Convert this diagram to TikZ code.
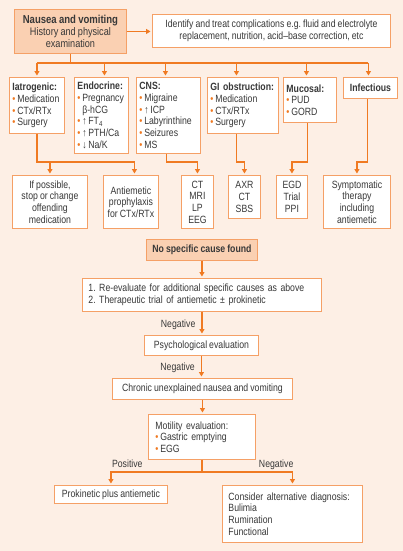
\documentclass[tikz,border=0pt]{standalone}
\usepackage{fontspec}
\setmainfont{Liberation Sans}[FakeStretch=0.83, WordSpace=0.85]
\usetikzlibrary{arrows.meta, positioning, calc}
\definecolor{bgc}{HTML}{FDEFE5}
\definecolor{lineor}{HTML}{F07A22}
\definecolor{boxor}{HTML}{F5A066}
\definecolor{headfill}{HTML}{FAD0B2}
\definecolor{txt}{HTML}{383838}
\newcommand{\bul}{{\color{lineor}\textbullet}\,}
\frenchspacing

\begin{document}
\begin{tikzpicture}[x=1pt, y=-1pt,
  box/.style={rectangle, draw=boxor, line width=0.9pt, fill=white, align=center, inner xsep=3pt, inner ysep=2pt, text=txt, font=\fontsize{10.5}{11.7}\selectfont},
  lbox/.style={box, anchor=north west, align=left},
  hd/.style={box, fill=headfill},
  lb/.style={font=\fontsize{10.5}{11}\selectfont, text=txt, inner sep=1pt, text depth=0pt},
  >={Triangle[length=4.5pt, width=5pt]},
  arr/.style={->, draw=lineor, line width=1.2pt, shorten >=1.5pt},
  ln/.style={draw=lineor, line width=1.2pt}]
\useasboundingbox[fill=bgc] (0,0) rectangle (403,551);

% start and side box
\node[hd, anchor=north west, minimum width=112, minimum height=44, font=\fontsize{11}{12.2}\selectfont] (nv) at (14,9) {{\fontsize{11.5}{12}\selectfont\textbf{Nausea and vomiting}}\\History and physical\\examination};
\node[box, anchor=north west, minimum width=238, minimum height=33] (idt) at (152,14) {Identify and treat complications e.g. fluid and electrolyte\\replacement, nutrition, acid--base correction, etc};
\draw[arr] (nv.east) -- (nv.east -| idt.west);

% causes
\node[lbox, text width=49, minimum height=56] (iat) at (9,77) {\textbf{Iatrogenic:}\\\bul Medication\\\bul CTx/RTx\\\bul Surgery};
\node[lbox, text width=48, minimum height=76] (endo) at (74,77) {\textbf{Endocrine:}\\\bul Pregnancy\\\hphantom{\bul}β-hCG\\\bul ↑\,FT\textsubscript{4}\\\bul ↑\,PTH/Ca\\\bul ↓\,Na/K};
\node[lbox, text width=58, minimum height=76] (cns) at (136,77) {\textbf{CNS:}\\\bul Migraine\\\bul ↑\,ICP\\\bul Labyrinthine\\\bul Seizures\\\bul MS};
\node[lbox, text width=65, minimum height=56] (gio) at (207,77) {\textbf{GI obstruction:}\\\bul Medication\\\bul CTx/RTx\\\bul Surgery};
\node[lbox, text width=47, minimum height=45] (muc) at (283,77) {\textbf{Mucosal:}\\\bul PUD\\\bul GORD};
\node[box, anchor=north west, minimum width=54, minimum height=21] (inf) at (343,77) {\textbf{Infectious}};

\coordinate (bus) at (0,63);
\draw[ln] (nv.south) -- (nv.south |- bus);
\draw[ln] (iat.north |- bus) -- ([xshift=-2pt]inf.north |- bus);
\foreach \n/\s in {iat/0, endo/3, cns/-3, gio/-6.5, muc/-3.5, inf/-2}
  \draw[arr] ([xshift=\s pt]\n.north) coordinate (t) ++(0,-14) -- (t);

% tests and management
\node[box, anchor=north west, minimum width=75, minimum height=53] (stop) at (12,175) {If possible,\\stop or change\\offending\\medication};
\node[box, anchor=north west, minimum width=55, minimum height=53] (proph) at (103,175) {Antiemetic\\prophylaxis\\for CTx/RTx};
\node[box, anchor=north west, minimum width=32, minimum height=53, inner xsep=1pt] (ctm) at (181,175) {CT\\MRI\\LP\\EEG};
\node[box, anchor=north west, minimum width=32, minimum height=43, inner xsep=1pt] (axr) at (228,175) {AXR\\CT\\SBS};
\node[box, anchor=north west, minimum width=31, minimum height=43, inner xsep=1pt] (egd) at (276,175) {EGD\\Trial\\PPI};
\node[box, anchor=north west, minimum width=67, minimum height=53] (sym) at (323,175) {Symptomatic\\therapy\\including\\antiemetic};

\coordinate (lv) at (0,162);
\draw[arr] (iat.south) -- (iat.south |- lv) -| ([xshift=3.5pt]proph.north);
\draw[arr] (stop.north |- lv) -- (stop.north);
\draw[arr] ([xshift=-2pt]cns.south) coordinate (c3) -- (c3 |- lv) -| (ctm.north);
\draw[arr] ([xshift=-6.5pt]gio.south) coordinate (c4) -- (c4 |- lv) -| (axr.north);
\draw[arr] ([xshift=-2.5pt]muc.south) coordinate (c5) -- (c5 |- lv) -| (egd.north);
\draw[arr] ([xshift=-3pt]inf.south) coordinate (c6) -- (c6 |- lv) -| (sym.north);

% no cause found
\node[hd, anchor=north west, minimum width=111, minimum height=21] (nsc) at (146,239) {\textbf{No specific cause found}};
\node[lbox, text width=227, minimum height=33, inner xsep=6pt] (reev) at (82,278) {1. Re-evaluate for additional specific causes as above\\2. Therapeutic trial of antiemetic ± prokinetic};
\node[box, anchor=north west, minimum width=114, minimum height=20] (psy) at (144,335) {Psychological evaluation};
\node[box, anchor=north west, minimum width=180, minimum height=21] (chr) at (112,378) {Chronic unexplained nausea and vomiting};
\node[lbox, text width=93, minimum height=45, inner xsep=7pt] (mot) at (148,414) {Motility evaluation:\\\bul Gastric emptying\\\bul EGG};
\node[box, anchor=north west, minimum width=113, minimum height=18] (pro) at (54,485) {Prokinetic plus antiemetic};
\node[lbox, text width=128, minimum height=57, inner xsep=6pt] (alt) at (222,485) {Consider alternative diagnosis:\\Bulimia\\Rumination\\Functional};

\draw[arr] (nsc.south) -- (nsc.south |- reev.north);
\draw[arr] (reev.south) -- node[lb, left=5pt] {Negative} (reev.south |- psy.north);
\draw[arr] (psy.south) -- node[lb, left=5pt] {Negative} (psy.south |- chr.north);
\draw[arr] (chr.south) -- (chr.south |- mot.north);
\draw[ln] (mot.south) -- ++(0,12) coordinate (mj);
\draw[arr] (mj) -| node[lb, pos=0.41, above=3pt] {Positive} (pro.north);
\draw[arr] (mj) -| node[lb, pos=0.41, above=3pt] {Negative} (alt.north);
\end{tikzpicture}
\end{document}
